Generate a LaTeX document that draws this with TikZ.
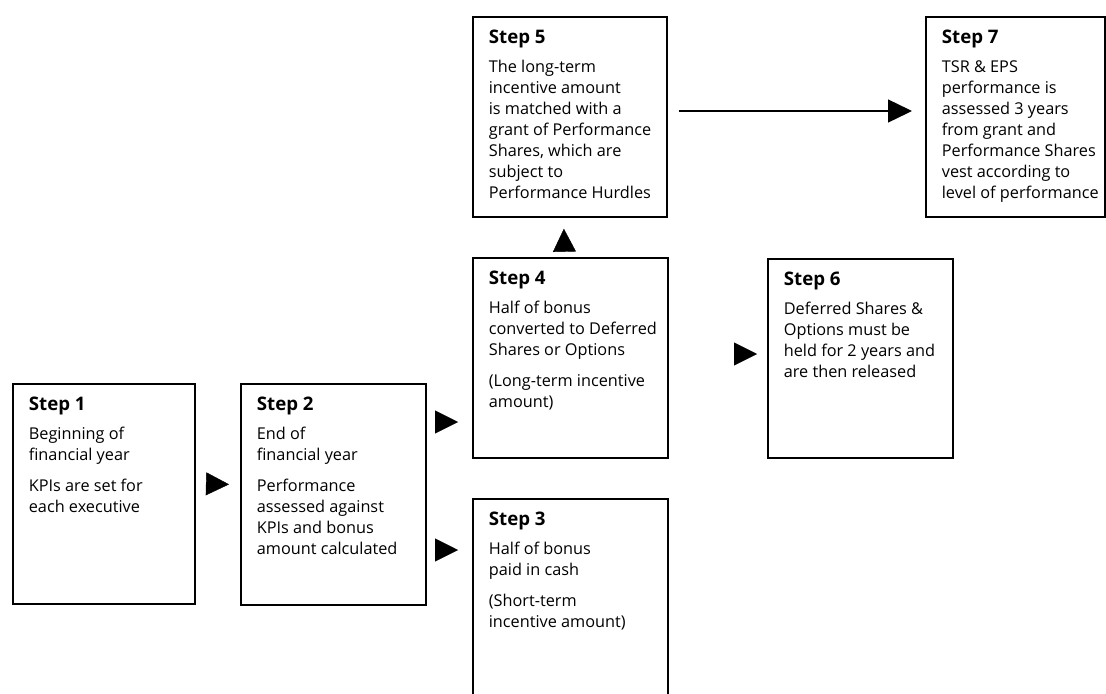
\documentclass[tikz,border=0pt]{standalone}
\usepackage{fontspec}
\setmainfont{Open Sans}
\usetikzlibrary{arrows.meta,calc}
\newlength{\pxu}\setlength{\pxu}{0.75pt}
\newcommand{\mybody}{\fontsize{12.2}{15.75}\selectfont}
\newcommand{\mytitle}{\fontsize{14}{15.75}\selectfont\bfseries}
\newcommand{\pgap}{\\[10\pxu]}
\newcommand{\stepcontent}[4]{\parbox[c][#2\pxu][t]{#1\pxu}{\mybody\raggedright\leftskip=16\pxu\relax\rule{0pt}{27\pxu}{\mytitle #3}\\[8\pxu]#4}}
\begin{document}
\begin{tikzpicture}[x=0.75pt,y=-0.75pt,
  stepbox/.style={draw=black, line width=1.3pt, inner sep=0pt, anchor=north west},
  tri/.style={draw=black, fill=black, line width=0.3pt, -{Triangle[length=17.25pt,width=17.25pt]}},
  longarrow/.style={draw=black, line width=1pt, -{Triangle[length=18pt,width=17.25pt]}}]
\useasboundingbox (0,0) rectangle (1106,693);
\clip (0,0) rectangle (1106,693);
\node[stepbox] (s1) at (12,383) {\stepcontent{182}{220}{Step 1}{Beginning of\\financial year\pgap KPIs are set for\\each executive}};
\node[stepbox] (s2) at (240,383) {\stepcontent{185}{221}{Step 2}{End of\\financial year\pgap Performance\\assessed against\\KPIs and bonus\\amount calculated}};
\node[stepbox] (s3) at (472,498) {\stepcontent{195}{250}{Step 3}{Half of bonus\\paid in cash\pgap (Short-term\\incentive amount)}};
\node[stepbox] (s4) at (472,257) {\stepcontent{195}{200}{Step 4}{Half of bonus\\converted to Deferred\\Shares or Options\pgap (Long-term incentive\\amount)}};
\node[stepbox] (s5) at (472,16) {\stepcontent{194}{200}{Step 5}{The long-term\\incentive amount\\is matched with a\\grant of Performance\\Shares, which are\\subject to\\Performance Hurdles}};
\node[stepbox] (s6) at (767,258) {\stepcontent{185}{199}{Step 6}{Deferred Shares \&\\Options must be\\held for 2 years and\\are then released}};
\node[stepbox] (s7) at (925,16) {\stepcontent{179}{200}{Step 7}{TSR \& EPS\\performance is\\assessed 3 years\\from grant and\\Performance Shares\\vest according to\\level of performance}};
\draw[tri] ($(s1.east)+(12,-10)$) -- ($(s2.west)+(-11,-10)$);
\draw[tri] ($(s2.north east)+(10,39)$) -- ($(s4.north west)+(-14,165)$);
\draw[tri] ($(s2.north east)+(10,167)$) -- ($(s3.north west)+(-14,52)$);
\draw[tri] ($(s4.north)+(-6,-7)$) -- ($(s5.south)+(-6,11)$);
\draw[tri] ($(s4.north east)+(67,97)$) -- ($(s6.north west)+(-10,96)$);
\draw[longarrow] ($(s5.north east)+(11,95)$) -- ($(s7.north west)+(-13,95)$);
\end{tikzpicture}
\end{document}
